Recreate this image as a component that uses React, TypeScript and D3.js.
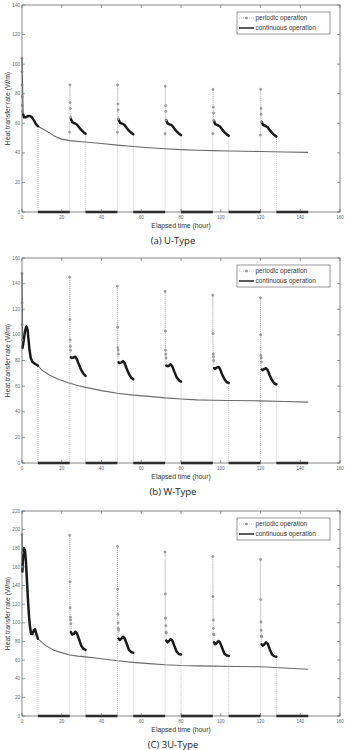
import React from "react";
import * as d3 from "d3";

// ---------- shared data ----------
const xTicks = [0, 20, 40, 60, 80, 100, 120, 140, 160];
const onsetTimes = [0, 24, 48, 72, 96, 120];
const onHours = 8;
const endHour = 144;
const denseOffsets = [0.6, 1.2, 2, 2.8, 3.6, 4.6, 5.8, 7, 8];
const spikeStep = 0.12;
const firstSpikeStep = 0.05;

// ---------- (a) U-Type ----------
const aYTicks = [0, 20, 40, 60, 80, 100, 120, 140];
const aContinuous: [number, number][] = [
  [0, 104], [0.6, 66], [1, 64], [2, 64], [3, 65], [4, 65], [5, 64], [6, 62], [7, 59.5], [8, 58],
  [10, 56.5], [12, 55], [14, 53.5], [16, 51.5], [18, 50.3], [20, 49.3], [24, 48.3], [30, 47.5],
  [40, 46.3], [48, 45.2], [56, 44.3], [64, 43.5], [72, 42.8], [80, 42.2], [88, 41.8], [96, 41.5],
  [104, 41.3], [112, 41.1], [120, 40.9], [132, 40.6], [144, 40.3],
];
const aFirstSpike = [104, 95, 86, 78, 72, 68];
const aSpikes = [
  [54, 86, 74, 70, 64],
  [54, 86, 73, 69, 63],
  [53, 85, 72, 68, 62],
  [53, 83, 71, 67, 62],
  [52, 83, 70, 66, 61],
];
const aDense = [
  [63, 60.8, 60.3, 59.8, 59.2, 57.5, 55.5, 54, 53],
  [62.5, 60.5, 60, 59.5, 58.8, 57, 55, 53.5, 52.6],
  [62, 60, 59.5, 59, 58.3, 56.5, 54.5, 53, 52],
  [61.5, 59.5, 59, 58.5, 57.8, 56, 54, 52.5, 51.5],
  [61, 59, 58.5, 58, 57.3, 55.5, 53.5, 52, 51],
];

// ---------- (b) W-Type ----------
const bYTicks = [0, 20, 40, 60, 80, 100, 120, 140, 160];
const bContinuous: [number, number][] = [
  [0, 148], [0.3, 90], [0.8, 95], [1.5, 103], [2.2, 106.5], [2.8, 104], [3.3, 96], [3.8, 88],
  [4.4, 82], [5.2, 79], [6.5, 77.5], [8, 76], [10, 72.5], [14, 68.5], [18, 65.5], [22.5, 63],
  [28, 60.5], [32, 59], [40, 56.5], [48, 54.5], [56, 53], [64, 52], [72, 50.8], [80, 50],
  [88, 49.3], [96, 49], [104, 48.8], [120, 48.5], [132, 48], [144, 47.5],
];
const bFirstSpike = [148, 125, 108, 96];
const bSpikes = [
  [145, 112, 96, 91, 88],
  [138, 106, 90, 88, 85],
  [134, 103, 88, 85, 82],
  [131, 101, 85, 83, 80],
  [129, 100, 84, 82, 79],
];
const bDense = [
  [82.5, 82, 82.5, 83, 81, 77, 72.5, 69.5, 68],
  [78.5, 78, 78.5, 79.5, 78, 74, 69.5, 66.5, 65.5],
  [76, 75.5, 76, 77, 75.5, 71.5, 67, 64.5, 63.5],
  [74, 73.5, 74.5, 75, 73.5, 69.5, 65.5, 63, 62.5],
  [73, 72.5, 73.5, 74, 72.5, 68.5, 64.5, 62, 61.5],
];

// ---------- (c) 3U-Type ----------
const cYTicks = [0, 20, 40, 60, 80, 100, 120, 140, 160, 180, 200, 220];
const cContinuous: [number, number][] = [
  [0, 195], [0.2, 155], [0.5, 170], [1, 180], [1.5, 178], [2, 165], [2.5, 145], [3, 125],
  [3.5, 108], [4, 96], [4.6, 88], [5.2, 88], [6, 92], [6.6, 93], [7.2, 88], [8, 83], [10, 79],
  [12, 75.5], [16, 70.5], [20, 68], [24, 65.5], [28, 64.3], [32, 63.5], [40, 61.5], [48, 59.3],
  [56, 57.5], [64, 56.2], [72, 55], [80, 54.2], [88, 53.8], [96, 53.5], [108, 53.2], [120, 52.8],
  [132, 51.5], [144, 50.2],
];
const cFirstSpike = [195, 175, 160];
const cSpikes = [
  [194, 144, 116, 106, 103, 99],
  [182, 136, 109, 100, 94, 92],
  [176, 131, 105, 97, 90, 89],
  [171, 128, 103, 94, 88, 87],
  [168, 125, 101, 92, 86, 85],
];
const cDense = [
  [90, 87.5, 88, 90.5, 89, 83, 75.5, 72, 71],
  [83, 81.5, 83, 85, 83.5, 78, 71, 68.5, 68],
  [81, 79, 80.5, 82.5, 81, 75.5, 69, 66.5, 66],
  [79, 77, 78.5, 80.5, 79, 73.5, 67, 65, 64.5],
  [77, 75.5, 77, 79, 77.5, 72, 66, 64, 63.5],
];

const legendLabels = ["periodic operation", "continuous operation"];
const xTitle = "Elapsed time (hour)";
const yTitle = "Heat transfer rate (W/m)";

type Pt = [number, number];

interface PanelProps {
  top: number;
  bottom: number;
  yTicks: number[];
  continuous: Pt[];
  firstSpike: number[];
  spikes: number[][];
  dense: number[][];
  caption: string;
}

const FONT = "'Liberation Sans', Arial, Helvetica, sans-serif";

function Panel({ top, bottom, yTicks, continuous, firstSpike, spikes, dense, caption }: PanelProps) {
  const left = 22;
  const right = 340;
  const x = d3.scaleLinear().domain([0, 160]).range([left, right]);
  const yMax = yTicks[yTicks.length - 1];
  const y = d3.scaleLinear().domain([0, yMax]).range([bottom, top]);
  const line = d3.line<Pt>().x((d) => x(d[0])).y((d) => y(d[1]));

  const full: Pt[] = [];
  const markers: Pt[] = [];
  const denseSegs: Pt[][] = [];
  const offSegs: Pt[][] = [];
  onsetTimes.forEach((t0, k) => {
    let spikePts: Pt[];
    let densePts: Pt[];
    if (k === 0) {
      spikePts = firstSpike.map((v, i) => [t0 + i * firstSpikeStep, v] as Pt);
      densePts = continuous.filter((d) => d[0] > 0 && d[0] <= onHours);
    } else {
      full.push([t0, 0]);
      spikePts = spikes[k - 1].map((v, i) => [t0 + i * spikeStep, v] as Pt);
      densePts = denseOffsets.map((o, j) => [t0 + o, dense[k - 1][j]] as Pt);
    }
    full.push(...spikePts, ...densePts);
    markers.push(...spikePts);
    denseSegs.push(densePts);
    const tEnd = t0 + onHours;
    const tNext = k + 1 < onsetTimes.length ? onsetTimes[k + 1] : endHour;
    full.push([tEnd, 0]);
    offSegs.push([[tEnd, 0], [tNext, 0]]);
    full.push([tNext, 0]);
  });

  const tickLen = 3;
  const midY = (top + bottom) / 2;
  const midX = (left + right) / 2;

  const lgX = 237, lgY = top + 7, lgW = 93, lgH = 22;

  return (
    <g>
      <rect x={left} y={top} width={right - left} height={bottom - top} fill="#fff" stroke="none" />
      <path d={line(continuous) || ""} fill="none" stroke="#6a6a6a" strokeWidth={1.1} />
      <path d={line(full) || ""} fill="none" stroke="#8a8a8a" strokeWidth={0.6} strokeDasharray="0.8,1.2" />
      {denseSegs.map((s, i) => (
        <path key={"d" + i} d={line(s) || ""} fill="none" stroke="#1a1a1a" strokeWidth={2.5} strokeLinejoin="round" strokeLinecap="round" />
      ))}
      {offSegs.map((s, i) => (
        <path key={"o" + i} d={line(s) || ""} fill="none" stroke="#1a1a1a" strokeWidth={2.6} />
      ))}
      {markers.map((m, i) => (
        <circle key={"m" + i} cx={x(m[0])} cy={y(m[1])} r={1.1} fill="#aaa" stroke="#777" strokeWidth={0.5} />
      ))}
      <rect x={left} y={top} width={right - left} height={bottom - top} fill="none" stroke="#555" strokeWidth={0.7} />
      {xTicks.map((t) => (
        <g key={"xt" + t}>
          <line x1={x(t)} x2={x(t)} y1={bottom} y2={bottom - tickLen} stroke="#555" strokeWidth={0.6} />
          <line x1={x(t)} x2={x(t)} y1={top} y2={top + tickLen} stroke="#555" strokeWidth={0.6} />
          <text x={x(t)} y={bottom + 7} fontSize={4.6} fill="#666" textAnchor="middle" fontFamily={FONT}>{t}</text>
        </g>
      ))}
      {yTicks.map((t) => (
        <g key={"yt" + t}>
          <line x1={left} x2={left + tickLen} y1={y(t)} y2={y(t)} stroke="#555" strokeWidth={0.6} />
          <line x1={right} x2={right - tickLen} y1={y(t)} y2={y(t)} stroke="#555" strokeWidth={0.6} />
          <text x={left - 2} y={y(t) + 1.6} fontSize={4.6} fill="#666" textAnchor="end" fontFamily={FONT}>{t}</text>
        </g>
      ))}
      <text x={midX} y={bottom + 16} fontSize={6.8} fill="#333" textAnchor="middle" fontFamily={FONT}>{xTitle}</text>
      <text transform={`translate(9.5,${midY}) rotate(-90)`} fontSize={6.8} fill="#333" textAnchor="middle" fontFamily={FONT}>{yTitle}</text>
      <rect x={lgX} y={lgY} width={lgW} height={lgH} fill="#fff" stroke="#555" strokeWidth={0.6} />
      <line x1={lgX + 2} x2={lgX + 17} y1={lgY + 6} y2={lgY + 6} stroke="#777" strokeWidth={0.6} strokeDasharray="0.8,1.2" />
      <circle cx={lgX + 9.5} cy={lgY + 6} r={1.1} fill="#aaa" stroke="#777" strokeWidth={0.5} />
      <text x={lgX + 18.5} y={lgY + 8.2} fontSize={6.5} fill="#333" fontFamily={FONT}>{legendLabels[0]}</text>
      <line x1={lgX + 2} x2={lgX + 17} y1={lgY + 16} y2={lgY + 16} stroke="#333" strokeWidth={1.6} />
      <text x={lgX + 18.5} y={lgY + 18.2} fontSize={6.5} fill="#333" fontFamily={FONT}>{legendLabels[1]}</text>
      <text x={173} y={bottom + 32} fontSize={9.5} fill="#222" textAnchor="middle" fontFamily="'Open Sans', 'Noto Sans', sans-serif">{caption}</text>
    </g>
  );
}

export default function App() {
  return (
    <svg width={345} height={750} style={{ position: "absolute", left: 0, top: 0, background: "#fff" }}>
      <rect width={345} height={750} fill="#fff" />
      <Panel top={5} bottom={212} yTicks={aYTicks} continuous={aContinuous} firstSpike={aFirstSpike} spikes={aSpikes} dense={aDense} caption="(a) U-Type" />
      <Panel top={258} bottom={463} yTicks={bYTicks} continuous={bContinuous} firstSpike={bFirstSpike} spikes={bSpikes} dense={bDense} caption="(b) W-Type" />
      <Panel top={511} bottom={716} yTicks={cYTicks} continuous={cContinuous} firstSpike={cFirstSpike} spikes={cSpikes} dense={cDense} caption="(C) 3U-Type" />
    </svg>
  );
}
